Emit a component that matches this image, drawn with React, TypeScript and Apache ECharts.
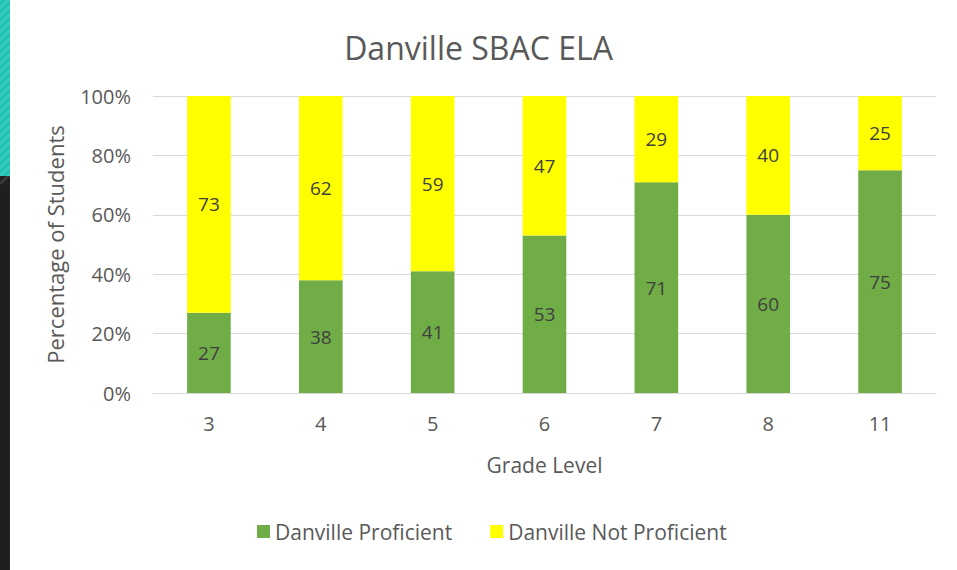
import React, { useEffect, useRef } from "react";
import * as echarts from "echarts";

const categories = ["3", "4", "5", "6", "7", "8", "11"];
const proficient = [27, 38, 41, 53, 71, 60, 75];
const notProficient = [73, 62, 59, 47, 29, 40, 25];
const yTicks = [0, 20, 40, 60, 80, 100];

const FONT = "'Open Sans', 'Noto Sans', sans-serif";

export default function App() {
  const ref = useRef<HTMLDivElement>(null);
  useEffect(() => {
    if (!ref.current) return;
    const chart = echarts.init(ref.current, undefined, { renderer: "svg" });
    const stripes: any[] = [];
    for (let y = -10; y < 176; y += 8) {
      stripes.push({
        type: "line",
        shape: { x1: 0, y1: y + 10, x2: 10, y2: y },
        style: { stroke: "rgba(255,255,255,0.12)", lineWidth: 3 },
        silent: true,
      });
    }
    const labelStyle = {
      show: true,
      position: "inside",
      fontFamily: FONT,
      fontSize: 19,
      color: "#404040",
    };
    chart.setOption({
      animation: false,
      backgroundColor: "#ffffff",
      textStyle: { fontFamily: FONT },
      title: {
        text: "Danville SBAC ELA",
        left: "center",
        top: 26,
        textStyle: { fontFamily: FONT, fontSize: 32, fontWeight: "normal", color: "#595959" },
      },
      legend: {
        bottom: 23,
        left: 252,
        itemWidth: 13,
        itemHeight: 13,
        itemGap: 38,
        icon: "rect",
        textStyle: { fontFamily: FONT, fontSize: 21, color: "#595959" },
        data: ["Danville Proficient", "Danville Not Proficient"],
      },
      grid: { left: 153, right: 21, top: 96, bottom: 177, containLabel: false },
      xAxis: {
        type: "category",
        data: categories,
        name: "Grade Level",
        nameLocation: "middle",
        nameGap: 61,
        nameTextStyle: { fontFamily: FONT, fontSize: 21, color: "#595959" },
        axisLine: { lineStyle: { color: "#d9d9d9" } },
        axisTick: { show: false },
        axisLabel: { fontFamily: FONT, fontSize: 20, color: "#595959", margin: 20 },
      },
      yAxis: {
        type: "value",
        min: 0,
        max: 100,
        interval: 20,
        name: "Percentage of Students",
        nameLocation: "middle",
        nameGap: 87,
        nameTextStyle: { fontFamily: FONT, fontSize: 22, color: "#595959" },
        axisLine: { show: false },
        axisTick: { show: false },
        splitLine: { lineStyle: { color: "#d9d9d9" } },
        axisLabel: {
          fontFamily: FONT,
          fontSize: 20,
          color: "#595959",
          margin: 22,
          formatter: (v: number) => (yTicks.includes(v) ? v + "%" : ""),
        },
      },
      series: [
        {
          name: "Danville Proficient",
          type: "bar",
          stack: "total",
          data: proficient,
          barWidth: "39%",
          itemStyle: { color: "#70AD47" },
          label: labelStyle,
        },
        {
          name: "Danville Not Proficient",
          type: "bar",
          stack: "total",
          data: notProficient,
          barWidth: "39%",
          itemStyle: { color: "#FFFF00" },
          label: labelStyle,
        },
      ],
      graphic: [
        { type: "rect", shape: { x: 0, y: 0, width: 10, height: 176 }, style: { fill: "#1fc3b3" }, silent: true },
        { type: "rect", shape: { x: 0, y: 176, width: 10, height: 394 }, style: { fill: "#1f1f1f" }, silent: true },
        { type: "group", children: stripes },
      ],
    });
    return () => chart.dispose();
  }, []);
  return (
    <div
      ref={ref}
      style={{ position: "fixed", left: 0, top: 0, width: 957, height: 570 }}
    />
  );
}
